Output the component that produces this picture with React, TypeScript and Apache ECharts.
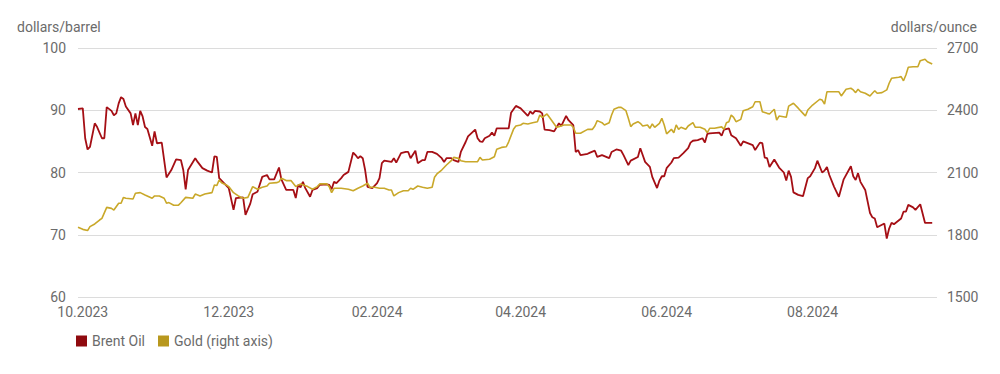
import React, { useEffect, useRef } from "react";
import * as echarts from "echarts";

// ---- Axis range (calendar days) ----
const axisStart = "2023-09-29";
const axisEnd = "2024-09-22";
const labelMonths = ["10", "12", "02", "04", "06", "08"];

// ---- Brent Oil (dollars/barrel) ----
const brentDates = [
  "2023-09-29","2023-10-01","2023-10-02","2023-10-03","2023-10-04","2023-10-06","2023-10-07","2023-10-09","2023-10-10","2023-10-11",
  "2023-10-13","2023-10-14","2023-10-15","2023-10-16","2023-10-17","2023-10-18","2023-10-19","2023-10-21","2023-10-22","2023-10-23",
  "2023-10-24","2023-10-25","2023-10-26","2023-10-27","2023-10-28","2023-10-30","2023-10-31","2023-11-01","2023-11-03","2023-11-05",
  "2023-11-07","2023-11-09","2023-11-11","2023-11-12","2023-11-13","2023-11-14","2023-11-17","2023-11-18","2023-11-20","2023-11-22",
  "2023-11-24","2023-11-25","2023-11-26","2023-11-27","2023-11-29","2023-12-01","2023-12-03","2023-12-04","2023-12-07","2023-12-08",
  "2023-12-10","2023-12-11","2023-12-13","2023-12-15","2023-12-17","2023-12-18","2023-12-20","2023-12-22","2023-12-23","2023-12-25",
  "2023-12-28","2023-12-29","2023-12-30","2023-12-31","2024-01-01","2024-01-02","2024-01-04","2024-01-05","2024-01-07","2024-01-08",
  "2024-01-11","2024-01-12","2024-01-13","2024-01-14","2024-01-15","2024-01-17","2024-01-18","2024-01-20","2024-01-22","2024-01-23",
  "2024-01-24","2024-01-25","2024-01-26","2024-01-27","2024-01-28","2024-01-30","2024-02-01","2024-02-02","2024-02-03","2024-02-04",
  "2024-02-07","2024-02-08","2024-02-09","2024-02-11","2024-02-13","2024-02-14","2024-02-15","2024-02-17","2024-02-18","2024-02-20",
  "2024-02-21","2024-02-22","2024-02-24","2024-02-26","2024-02-28","2024-02-29","2024-03-01","2024-03-03","2024-03-04","2024-03-06",
  "2024-03-07","2024-03-09","2024-03-10","2024-03-13","2024-03-14","2024-03-15","2024-03-16","2024-03-17","2024-03-19","2024-03-20",
  "2024-03-21","2024-03-22","2024-03-27","2024-03-28","2024-03-30","2024-04-01","2024-04-02","2024-04-04","2024-04-05","2024-04-06",
  "2024-04-07","2024-04-09","2024-04-10","2024-04-11","2024-04-13","2024-04-15","2024-04-17","2024-04-18","2024-04-20","2024-04-21",
  "2024-04-23","2024-04-24","2024-04-25","2024-04-26","2024-04-29","2024-04-30","2024-05-02","2024-05-03","2024-05-05","2024-05-08",
  "2024-05-09","2024-05-11","2024-05-13","2024-05-14","2024-05-16","2024-05-17","2024-05-20","2024-05-21","2024-05-22","2024-05-23",
  "2024-05-25","2024-05-26","2024-05-28","2024-05-29","2024-05-30","2024-05-31","2024-06-01","2024-06-03","2024-06-04","2024-06-06",
  "2024-06-08","2024-06-10","2024-06-11","2024-06-12","2024-06-14","2024-06-16","2024-06-17","2024-06-18","2024-06-19","2024-06-23",
  "2024-06-24","2024-06-25","2024-06-27","2024-06-28","2024-06-30","2024-07-02","2024-07-03","2024-07-07","2024-07-08","2024-07-10",
  "2024-07-11","2024-07-12","2024-07-13","2024-07-14","2024-07-16","2024-07-18","2024-07-20","2024-07-21","2024-07-22","2024-07-23",
  "2024-07-24","2024-07-26","2024-07-28","2024-07-30","2024-07-31","2024-08-02","2024-08-03","2024-08-05","2024-08-06","2024-08-07",
  "2024-08-08","2024-08-10","2024-08-12","2024-08-14","2024-08-17","2024-08-18","2024-08-19","2024-08-20","2024-08-21","2024-08-23",
  "2024-08-25","2024-08-26","2024-08-27","2024-08-28","2024-08-29","2024-08-31","2024-09-01","2024-09-02","2024-09-03","2024-09-04",
  "2024-09-07","2024-09-08","2024-09-09","2024-09-10","2024-09-12","2024-09-13","2024-09-15","2024-09-17","2024-09-20",
];
const brentValues = [
  90.2,90.3,85.5,83.7,84.1,87.9,87.3,85.5,85.5,90.5,
  89.9,89.2,89.5,91.1,92.1,91.8,90.6,89.5,87.6,89.5,
  87.6,89.9,89.0,87.3,87.0,84.3,86.6,84.7,84.8,79.2,
  80.4,82.1,82.0,80.4,77.3,80.4,82.3,81.7,80.7,80.3,
  80.0,82.6,82.5,79.1,78.3,77.5,74.0,75.9,76.0,73.2,
  75.0,76.5,76.9,79.3,79.6,78.9,78.9,80.8,78.9,77.2,
  77.2,75.9,78.0,77.6,78.5,77.5,76.1,77.2,77.5,78.0,
  78.1,78.0,77.3,78.5,78.3,79.1,79.6,80.1,83.2,82.8,
  82.3,82.6,82.3,80.4,77.7,77.5,78.3,79.1,81.5,81.9,
  81.7,82.3,81.6,83.1,83.3,83.3,82.3,83.5,81.5,82.0,
  82.0,83.3,83.3,83.0,82.3,81.7,82.3,82.3,82.0,81.7,
  83.3,84.9,85.8,86.9,85.5,85.0,84.9,85.5,85.9,86.4,
  85.9,87.1,87.1,89.6,90.7,90.3,89.9,89.1,89.8,89.4,
  89.9,89.8,89.5,86.9,86.8,86.6,87.9,87.5,89.1,88.4,
  87.6,83.3,83.6,82.8,83.0,83.2,83.5,82.5,82.8,82.3,
  83.3,83.7,83.5,82.8,81.2,81.9,82.5,83.9,82.8,81.7,
  80.9,79.3,77.5,78.7,79.4,79.4,80.7,81.6,82.3,82.4,
  83.1,83.9,84.8,85.1,85.2,85.5,84.8,86.2,86.3,86.4,
  85.9,86.9,87.1,86.0,85.5,84.3,85.0,84.4,83.6,84.8,
  84.7,82.4,82.3,80.9,82.1,80.8,80.0,78.7,80.3,79.3,
  76.8,76.4,76.2,79.1,79.4,80.7,81.9,80.0,80.3,80.9,
  79.6,77.7,76.1,78.9,81.0,79.4,78.8,79.9,78.5,77.2,
  73.5,72.8,72.6,71.2,71.4,71.8,69.4,71.0,71.9,71.7,
  72.6,73.7,73.7,74.8,74.4,74.0,74.9,71.9,71.9,
];

// ---- Gold (dollars/ounce, right axis) ----
const goldDates = [
  "2023-09-29","2023-10-01","2023-10-03","2023-10-04","2023-10-06","2023-10-08","2023-10-09","2023-10-11","2023-10-13","2023-10-14",
  "2023-10-16","2023-10-17","2023-10-18","2023-10-19","2023-10-22","2023-10-23","2023-10-25","2023-10-27","2023-10-30","2023-10-31",
  "2023-11-02","2023-11-04","2023-11-05","2023-11-06","2023-11-08","2023-11-10","2023-11-11","2023-11-13","2023-11-16","2023-11-17",
  "2023-11-19","2023-11-21","2023-11-24","2023-11-25","2023-11-26","2023-11-27","2023-11-28","2023-11-30","2023-12-01","2023-12-03",
  "2023-12-05","2023-12-07","2023-12-09","2023-12-11","2023-12-13","2023-12-15","2023-12-17","2023-12-18","2023-12-21","2023-12-22",
  "2023-12-23","2023-12-25","2023-12-27","2023-12-29","2023-12-31","2024-01-03","2024-01-05","2024-01-07","2024-01-08","2024-01-11",
  "2024-01-12","2024-01-13","2024-01-14","2024-01-17","2024-01-20","2024-01-22","2024-01-24","2024-01-26","2024-01-28","2024-01-29",
  "2024-01-31","2024-02-02","2024-02-04","2024-02-06","2024-02-07","2024-02-08","2024-02-10","2024-02-12","2024-02-14","2024-02-15",
  "2024-02-16","2024-02-18","2024-02-20","2024-02-22","2024-02-24","2024-02-25","2024-02-26","2024-02-28","2024-03-01","2024-03-03",
  "2024-03-04","2024-03-06","2024-03-07","2024-03-09","2024-03-12","2024-03-14","2024-03-15","2024-03-16","2024-03-19","2024-03-21",
  "2024-03-22","2024-03-24","2024-03-26","2024-03-27","2024-03-29","2024-03-30","2024-04-01","2024-04-02","2024-04-04","2024-04-06",
  "2024-04-08","2024-04-09","2024-04-10","2024-04-12","2024-04-13","2024-04-16","2024-04-17","2024-04-19","2024-04-22","2024-04-23",
  "2024-04-24","2024-04-26","2024-04-28","2024-04-29","2024-05-01","2024-05-02","2024-05-03","2024-05-05","2024-05-06","2024-05-08",
  "2024-05-09","2024-05-10","2024-05-12","2024-05-13","2024-05-15","2024-05-16","2024-05-17","2024-05-18","2024-05-20","2024-05-21",
  "2024-05-22","2024-05-24","2024-05-25","2024-05-26","2024-05-27","2024-05-29","2024-05-30","2024-05-31","2024-06-01","2024-06-02",
  "2024-06-03","2024-06-04","2024-06-05","2024-06-06","2024-06-07","2024-06-09","2024-06-10","2024-06-12","2024-06-13","2024-06-15",
  "2024-06-17","2024-06-18","2024-06-19","2024-06-21","2024-06-24","2024-06-25","2024-06-26","2024-06-27","2024-06-28","2024-06-29",
  "2024-06-30","2024-07-02","2024-07-03","2024-07-05","2024-07-07","2024-07-08","2024-07-10","2024-07-11","2024-07-13","2024-07-14",
  "2024-07-16","2024-07-17","2024-07-18","2024-07-21","2024-07-22","2024-07-24","2024-07-26","2024-07-28","2024-07-29","2024-07-30",
  "2024-08-01","2024-08-04","2024-08-05","2024-08-06","2024-08-07","2024-08-09","2024-08-12","2024-08-13","2024-08-15","2024-08-17",
  "2024-08-18","2024-08-19","2024-08-20","2024-08-21","2024-08-23","2024-08-25","2024-08-26","2024-08-27","2024-08-28","2024-08-30",
  "2024-09-01","2024-09-02","2024-09-03","2024-09-06","2024-09-07","2024-09-08","2024-09-09","2024-09-10","2024-09-12","2024-09-14",
  "2024-09-15","2024-09-17","2024-09-18","2024-09-20",
];
const goldValues = [
  1836,1826,1820,1839,1852,1871,1879,1932,1927,1919,
  1952,1952,1980,1976,1972,2000,2003,1992,1976,1987,
  1987,1976,1952,1955,1942,1943,1954,1980,1976,1996,
  1987,1996,2003,2040,2037,2064,2051,2040,2032,2003,
  1987,1976,1980,2032,2019,2029,2035,2048,2051,2055,
  2072,2061,2061,2032,2045,2032,2019,2032,2045,2045,
  2032,2003,2024,2024,2019,2012,2024,2035,2048,2029,
  2029,2024,2024,2016,2016,1987,2003,2012,2012,2024,
  2019,2035,2029,2024,2029,2077,2093,2112,2136,2157,
  2173,2168,2157,2152,2152,2152,2173,2160,2164,2176,
  2212,2221,2224,2248,2308,2324,2329,2337,2334,2340,
  2345,2377,2366,2382,2366,2318,2321,2329,2329,2318,
  2289,2289,2302,2308,2308,2324,2350,2340,2329,2340,
  2377,2405,2414,2414,2398,2361,2321,2334,2345,2337,
  2324,2329,2313,2334,2318,2337,2361,2329,2286,2297,
  2308,2292,2329,2308,2318,2308,2324,2340,2318,2318,
  2308,2292,2313,2313,2320,2308,2340,2345,2377,2366,
  2345,2356,2398,2405,2417,2441,2441,2393,2385,2382,
  2405,2353,2372,2366,2420,2434,2410,2385,2372,2401,
  2425,2453,2449,2430,2489,2489,2489,2469,2501,2506,
  2498,2485,2501,2489,2482,2469,2482,2494,2482,2485,
  2498,2530,2554,2559,2562,2542,2570,2607,2610,2610,
  2639,2646,2634,2623,
];

const FONT = "Roboto, 'Noto Sans', Arial, sans-serif";
const TEXT = "#6b6b6b";

function buildDays(start: string, end: string): string[] {
  const out: string[] = [];
  const t0 = Date.parse(start + "T00:00:00Z");
  const t1 = Date.parse(end + "T00:00:00Z");
  for (let t = t0; t <= t1; t += 86400000) out.push(new Date(t).toISOString().slice(0, 10));
  return out;
}

export default function App() {
  const ref = useRef<HTMLDivElement>(null);
  useEffect(() => {
    document.body.style.margin = "0";
    if (!ref.current) return;
    const chart = echarts.init(ref.current, undefined, { renderer: "svg" });
    const days = buildDays(axisStart, axisEnd);
    chart.setOption({
      animation: false,
      textStyle: { fontFamily: FONT },
      title: [
        { text: "dollars/barrel", left: 17, top: 20, padding: 0, textStyle: { fontSize: 14, fontWeight: "normal", color: TEXT, fontFamily: FONT } },
        { text: "dollars/ounce", right: 23, top: 20, padding: 0, textStyle: { fontSize: 14, fontWeight: "normal", color: TEXT, fontFamily: FONT } },
      ],
      legend: {
        data: ["Brent Oil", "Gold (right axis)"],
        left: 76,
        top: 334,
        padding: 0,
        icon: "rect",
        itemWidth: 11,
        itemHeight: 11,
        itemGap: 13,
        textStyle: { fontSize: 14, color: TEXT, fontFamily: FONT },
      },
      grid: { left: 78, right: 63, top: 48, bottom: 77, containLabel: false },
      xAxis: {
        type: "category",
        data: days,
        boundaryGap: false,
        axisLine: { show: false },
        axisTick: { show: false },
        splitLine: { show: false },
        axisLabel: {
          color: TEXT,
          fontSize: 14,
          fontFamily: FONT,
          margin: 8,
          interval: (_i: number, v: string) => v.slice(8, 10) === "01" && labelMonths.includes(v.slice(5, 7)),
          formatter: (v: string) => v.slice(5, 7) + "." + v.slice(0, 4),
        },
      },
      yAxis: [
        {
          type: "value",
          min: 60,
          max: 100,
          interval: 10,
          axisLine: { show: false },
          axisTick: { show: false },
          axisLabel: { color: TEXT, fontSize: 14, fontFamily: FONT, margin: 12, formatter: (v: number) => String(v) },
          splitLine: { lineStyle: { color: "#dcdcdc", width: 1 } },
        },
        {
          type: "value",
          min: 1500,
          max: 2700,
          interval: 300,
          axisLine: { show: false },
          axisTick: { show: false },
          axisLabel: { color: TEXT, fontSize: 14, fontFamily: FONT, margin: 10, formatter: (v: number) => String(v) },
          splitLine: { show: false },
        },
      ],
      series: [
        {
          name: "Brent Oil",
          type: "line",
          yAxisIndex: 0,
          showSymbol: false,
          symbol: "none",
          data: brentDates.map((d, i) => [d, brentValues[i]]),
          lineStyle: { color: "#a50f15", width: 1.8 },
          itemStyle: { color: "#8f0a0f" },
        },
        {
          name: "Gold (right axis)",
          type: "line",
          yAxisIndex: 1,
          showSymbol: false,
          symbol: "none",
          data: goldDates.map((d, i) => [d, goldValues[i]]),
          lineStyle: { color: "#c9a82a", width: 1.6 },
          itemStyle: { color: "#b8981e" },
        },
      ],
    });
    return () => chart.dispose();
  }, []);
  return <div ref={ref} style={{ width: 1000, height: 374 }} />;
}
